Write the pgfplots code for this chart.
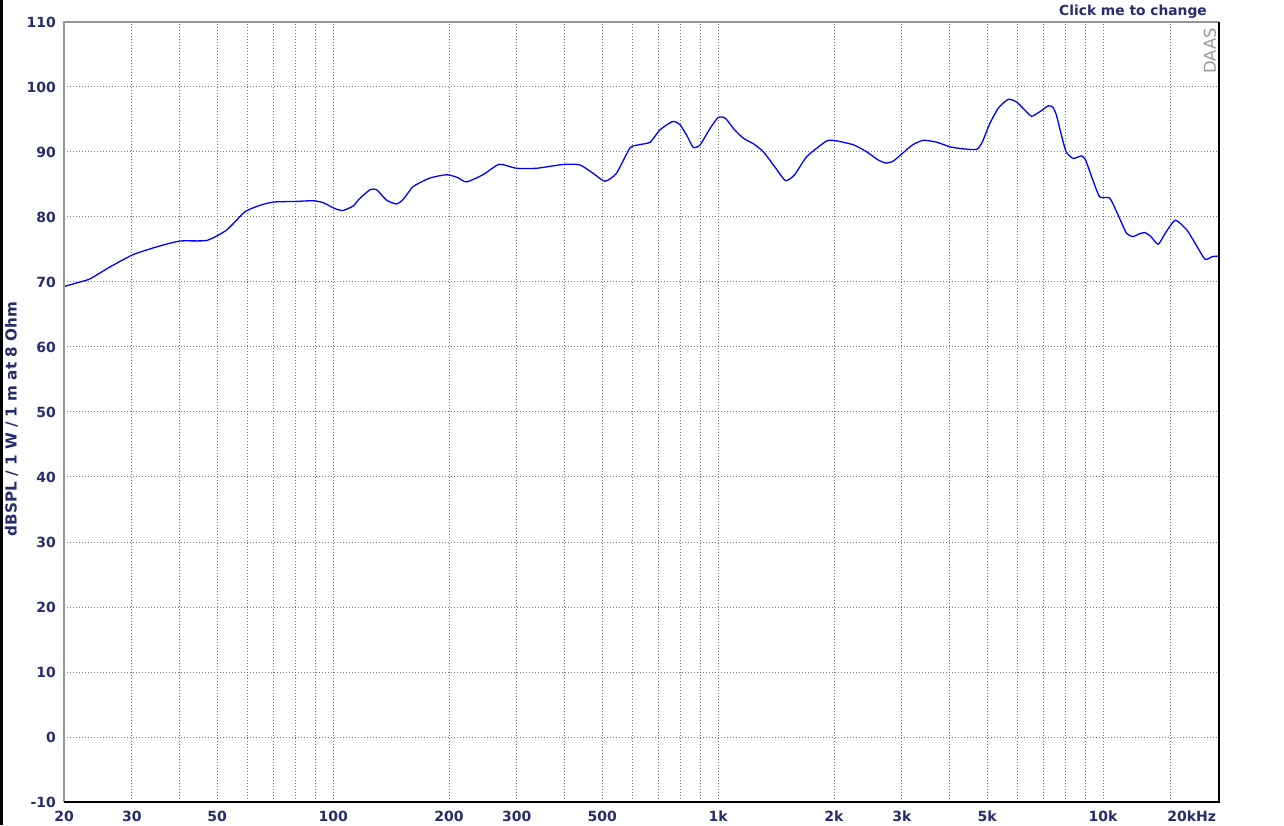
\documentclass[border=0pt]{standalone}
\usepackage{fontspec}
\setmainfont{DejaVu Sans}
\usepackage{pgfplots}
\pgfplotsset{compat=1.18}
\definecolor{navy}{RGB}{38,44,108}
\definecolor{gridgray}{RGB}{120,120,120}
\definecolor{framegray}{RGB}{150,150,150}
\begin{document}
\begin{tikzpicture}
\path[use as bounding box] (0,0) rectangle (642pt,412.5pt);
\fill[black] (0,0) rectangle (1.6pt,412.5pt);
\begin{axis}[
  at={(32pt,11.5pt)}, anchor=south west,
  scale only axis, width=577.5pt, height=390pt,
  xmode=log, xmin=20, xmax=20000, ymin=-10, ymax=110,
  axis line style={draw=none},
  major tick length=0pt, minor tick length=0pt,
  xtick={20,30,40,50,60,70,80,90,100,200,300,400,500,600,700,800,900,1000,2000,3000,4000,5000,6000,7000,8000,9000,10000,15000},
  xticklabels={20,30,,50,,,,,100,200,300,,500,,,,,1k,2k,3k,,5k,,,,,10k,},
  extra x ticks={20000},
  extra x tick labels={20kHz},
  extra x tick style={grid=none, xticklabel style={anchor=north east, xshift=2pt}},
  ytick={-10,0,10,20,30,40,50,60,70,80,90,100,110},
  yticklabels={-10,0,10,20,30,40,50,60,70,80,90,100,110},
  grid=major,
  major grid style={gridgray, dash pattern=on 0.5pt off 1pt, line width=0.5pt},
  tick label style={font=\fontsize{7}{8}\selectfont\bfseries, text=navy},
  xticklabel style={yshift=-1pt},
  yticklabel style={xshift=-0.5pt},
  clip=false,
]
\addplot[blue, line width=0.65pt, smooth, tension=0.35] coordinates {
(20,69.3) (22,70.0) (23.4,70.5) (26.3,72.3) (30.2,74.2) (34.8,75.4) (40,76.3) (47,76.4)
(52.9,78.0) (59,80.8) (64.6,81.8) (70,82.3) (80,82.4) (88.8,82.5) (94.2,82.2) (101,81.3)
(106,81.0) (112.8,81.7) (117,82.8) (124.8,84.2) (129.7,84.2) (137.6,82.6) (146,82.0) (152,82.7)
(161.6,84.7) (178.6,86.0) (197,86.5) (210,86.1) (222,85.4) (245,86.5) (270,88.1) (299,87.5)
(338,87.5) (398,88.1) (438,88.0) (474,86.7) (508,85.5) (544,86.7) (590,90.6) (620,91.1)
(666,91.5) (706,93.4) (762,94.7) (796,94.2) (830,92.5) (862,90.7) (898,91.1) (950,93.5)
(1000,95.3) (1044,95.2) (1100,93.5) (1164,92.1) (1240,91.2) (1312,90.0) (1400,87.8) (1496,85.6)
(1580,86.5) (1700,89.3) (1914,91.7) (2034,91.7) (2247,91.1) (2436,90.0) (2600,88.8) (2726,88.3)
(2850,88.6) (3040,90.0) (3200,91.1) (3412,91.8) (3700,91.5) (4000,90.8) (4300,90.5) (4690,90.4)
(4850,91.5) (5080,94.4) (5350,96.8) (5672,98.1) (5960,97.7) (6250,96.5) (6520,95.5) (6850,96.2)
(7200,97.1) (7400,96.9) (7560,95.7) (7800,92.5) (8020,90.0) (8360,89.0) (8780,89.4) (9000,88.8)
(9400,85.7) (9800,83.1) (10400,82.9) (10900,80.5) (11500,77.5) (11960,77.0) (12400,77.4) (12830,77.6)
(13300,77.0) (13900,75.8) (14500,77.5) (15400,79.5) (16500,78.0) (17400,75.8) (18400,73.5) (19200,73.9)
(20000,74.0)
};
\draw[framegray, line width=1pt] (rel axis cs:0,0) -- (rel axis cs:0,1) -- (rel axis cs:1,1);
\draw[black, line width=0.8pt] (rel axis cs:0,0) -- (rel axis cs:1,0) -- (rel axis cs:1,1);
\end{axis}
\node[rotate=90, text=navy, font=\fontsize{7.6}{9}\selectfont\bfseries] at (5.8pt,203pt) {dBSPL / 1 W / 1 m at 8 Ohm};
\node[text=navy, font=\fontsize{6.9}{8}\selectfont\bfseries] at (566.5pt,406.5pt) {Click me to change};
\node[rotate=90, text=gray!80, font=\fontsize{8.2}{10}\selectfont] at (605pt,387pt) {DAAS};
\end{tikzpicture}
\end{document}
